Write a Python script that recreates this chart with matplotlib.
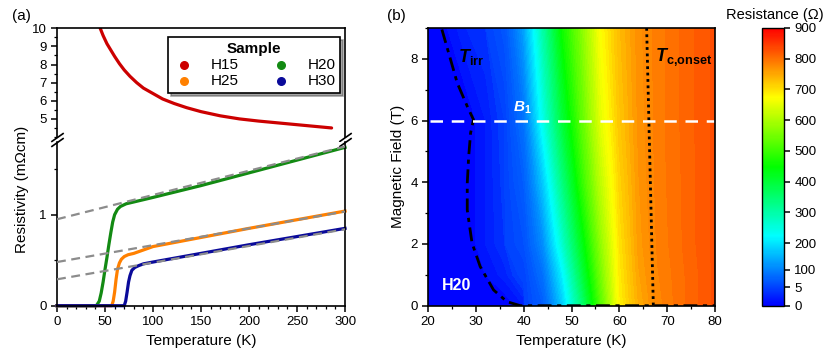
import numpy as np
import matplotlib
matplotlib.use('Agg')
import matplotlib.pyplot as plt
from matplotlib.colors import LinearSegmentedColormap, FuncNorm
from matplotlib.cm import ScalarMappable
from matplotlib.ticker import MultipleLocator

plt.rcParams['font.family'] = ['Liberation Sans', 'DejaVu Sans']
plt.rcParams['mathtext.fontset'] = 'custom'
plt.rcParams['mathtext.rm'] = 'Liberation Sans'
plt.rcParams['mathtext.it'] = 'Liberation Sans:italic'
plt.rcParams['mathtext.bf'] = 'Liberation Sans:bold'
plt.rcParams['mathtext.bfit'] = 'Liberation Sans:italic:bold'
plt.rcParams['axes.linewidth'] = 1.2
plt.rcParams['xtick.major.width'] = 1.1
plt.rcParams['ytick.major.width'] = 1.1
plt.rcParams['xtick.minor.width'] = 0.9
plt.rcParams['ytick.minor.width'] = 0.9

# ---- (a) resistivity vs temperature ----
t_h15 = [43, 45, 48, 52, 56, 60, 65, 70, 76, 83, 90, 100, 110, 122, 135, 150,
         170, 190, 210, 230, 250, 270, 286]
rho_h15 = [10.4, 10.0, 9.6, 9.15, 8.8, 8.45, 8.05, 7.7, 7.35, 7.0, 6.7, 6.4, 6.1, 5.85, 5.62, 5.40,
           5.17, 5.0, 4.88, 4.78, 4.68, 4.58, 4.50]

t_h20 = [0, 41, 44, 46, 48, 50, 52, 54, 56, 58, 60, 63, 66, 72, 80, 100, 150, 200, 250, 300]
rho_h20 = [0, 0, 0.05, 0.14, 0.26, 0.40, 0.53, 0.67, 0.80, 0.92, 1.00, 1.06, 1.09, 1.12, 1.14,
           1.19, 1.32, 1.46, 1.60, 1.74]

t_h25 = [0, 57, 58.5, 60, 61.5, 63, 65, 67, 70, 74, 80, 100, 150, 200, 250, 300]
rho_h25 = [0, 0, 0.05, 0.15, 0.29, 0.40, 0.47, 0.51, 0.54, 0.56, 0.575, 0.65, 0.75, 0.85, 0.945, 1.04]

t_h30 = [0, 70, 71.5, 73, 74.5, 76, 78, 81, 85, 90, 100, 150, 200, 250, 300]
rho_h30 = [0, 0, 0.05, 0.15, 0.26, 0.33, 0.39, 0.42, 0.44, 0.46, 0.48, 0.575, 0.67, 0.76, 0.85]

# linear fits of the normal state
fit_t = [0, 300]
fit_h20 = [0.95, 1.75]
fit_h25 = [0.48, 1.035]
fit_h30 = [0.29, 0.84]

# ---- (b) resistance map of H20 ----
map_T = [20, 24, 28, 32, 36, 40, 44, 48, 52, 56, 60, 64, 68, 72, 76, 80]
map_B = [0, 1, 2, 4, 6, 9]
map_R = [
    [0, 0, 0, 0, 0, 2, 45, 170, 335, 515, 681, 745, 780, 798, 813, 828],
    [0, 0, 0, 1, 2.5, 6, 74, 209, 380, 546, 688, 753, 784, 799, 813, 828],
    [0, 0, 0, 2, 4, 24, 110, 260, 418, 570, 695, 759, 787, 801, 815, 828],
    [0, 0, 0, 2, 4.5, 46, 171, 331, 483, 613, 709, 764, 789, 802, 815, 828],
    [0, 0, 0, 2, 5, 77, 239, 393, 525, 645, 722, 768, 790, 803, 816, 828],
    [0, 1, 3, 4, 30, 133, 299, 455, 562, 670, 733, 771, 790, 803, 816, 828],
]

tirr_T = [22.9, 24.7, 26.1, 28.2, 29.5, 28.9, 28.5, 28.2, 28.2, 29.2, 30.9, 33.7, 36.5, 39.3, 80]
tirr_B = [8.95, 7.98, 7.22, 6.46, 6.03, 5.6, 4.84, 3.97, 3.1, 2.03, 1.27, 0.51, 0.13, 0, 0]
tc_T = [65.7, 67.1]
tc_B = [9, 0]
b1_T = [20.5, 80]
b1_B = [6, 6]

cbar_vals = [0, 5, 100, 200, 300, 400, 500, 600, 700, 800, 900]
cbar_pos = [0, 0.066, 0.129, 0.225, 0.336, 0.446, 0.557, 0.668, 0.779, 0.889, 1.0]

fig = plt.figure(figsize=(8.3, 3.57), dpi=100)

ax_top = fig.add_axes([0.0687, 0.6162, 0.347, 0.3045])
ax_bot = fig.add_axes([0.0687, 0.1437, 0.347, 0.4588])

ax_top.plot(t_h15, rho_h15, color='#cc0000', lw=2.3, solid_capstyle='round')
ax_bot.plot(t_h20, rho_h20, color='#138a13', lw=2.3, clip_on=False)
ax_bot.plot(t_h25, rho_h25, color='#ff8000', lw=2.3, clip_on=False)
ax_bot.plot(t_h30, rho_h30, color='#0a0a9a', lw=2.3, clip_on=False)
for f in [fit_h20, fit_h25, fit_h30]:
    ax_bot.plot(fit_t, f, color='#8c8c8c', lw=1.6, ls=(0, (4, 2.5)), zorder=5)

for ax in [ax_top, ax_bot]:
    ax.set_xlim(0, 300)
    ax.tick_params(which='both', direction='out', right=False, top=False, labelsize=9.5)
    ax.tick_params(which='major', length=4)
    ax.tick_params(which='minor', length=2.2)
ax_top.set_ylim(4.0, 10)
ax_top.yaxis.set_minor_locator(MultipleLocator(0.5))
ax_top.set_yticks([5, 6, 7, 8, 9, 10])
ax_top.spines['bottom'].set_visible(False)
ax_top.tick_params(axis='x', which='both', bottom=False, labelbottom=False)

ax_bot.set_ylim(0, 1.8)
ax_bot.set_yticks([0, 1])
ax_bot.yaxis.set_minor_locator(MultipleLocator(0.5))
ax_bot.spines['top'].set_visible(False)
ax_bot.xaxis.set_major_locator(MultipleLocator(50))
ax_bot.xaxis.set_minor_locator(MultipleLocator(10))
ax_bot.set_xlabel('Temperature (K)', fontsize=11)

brk = dict(marker=[(-1, -0.7), (1, 0.7)], markersize=9, linestyle='none',
           color='k', mec='k', mew=1.2, clip_on=False)
ax_top.plot([0, 1], [0, 0], transform=ax_top.transAxes, **brk)
ax_bot.plot([0, 1], [1, 1], transform=ax_bot.transAxes, **brk)

fig.text(0.027, 0.47, 'Resistivity (m\u03a9cm)', rotation=90, ha='center', va='center', fontsize=11)
fig.text(0.015, 0.955, '(a)', fontsize=11, va='center')

hs = [ax_top.scatter([], [], color=c, s=30) for c in ['#cc0000', '#ff8000', '#138a13', '#0a0a9a']]
leg = ax_top.legend(hs, ['H15', 'H25', 'H20', 'H30'], ncol=2, title='Sample',
                    loc='upper right', bbox_to_anchor=(0.983, 0.92), borderaxespad=0,
                    fontsize=11, title_fontproperties={'weight': 'bold', 'size': 11},
                    fancybox=False, shadow=True, edgecolor='k', framealpha=1,
                    handletextpad=1.0, columnspacing=2.0, labelspacing=0.15,
                    borderpad=0.3, handlelength=1.5)
leg.get_frame().set_linewidth(1.2)

# ---- (b) ----
def fwd(v):
    return np.interp(v, cbar_vals, cbar_pos)

def inv(p):
    return np.interp(p, cbar_pos, cbar_vals)

norm = FuncNorm((fwd, inv), vmin=0, vmax=900)
cmap = LinearSegmentedColormap.from_list('rb', ['#0000ff', '#00ffff', '#00ff00', '#ffff00', '#ff0000'])

axm = fig.add_axes([0.5157, 0.1437, 0.3458, 0.778])
levels = np.concatenate([np.arange(0, 5, 1), np.arange(5, 900, 10), [900]])
axm.contourf(map_T, map_B, map_R, levels=levels, cmap=cmap, norm=norm)
axm.plot(tirr_T, tirr_B, color='k', lw=2, ls=(0, (5, 2, 1.5, 2)))
axm.plot(tc_T, tc_B, color='k', lw=2, ls=(0, (1, 1.3)))
axm.plot(b1_T, b1_B, color='white', lw=1.8, ls=(0, (5, 3.5)))
axm.set_xlim(20, 80)
axm.set_ylim(0, 9)
axm.xaxis.set_major_locator(MultipleLocator(10))
axm.xaxis.set_minor_locator(MultipleLocator(5))
axm.yaxis.set_major_locator(MultipleLocator(2))
axm.yaxis.set_minor_locator(MultipleLocator(1))
axm.tick_params(which='both', direction='out', labelsize=9.5)
axm.tick_params(which='major', length=4)
axm.tick_params(which='minor', length=2.2)
axm.set_xlabel('Temperature (K)', fontsize=11)
axm.set_ylabel('Magnetic Field (T)', fontsize=11, labelpad=4)

axm.text(26.2, 8.05, r'$\mathbfit{T}_{\mathbf{irr}}$', fontsize=13, va='center')
axm.text(67.4, 8.05, r'$\mathbfit{T}_{\mathbf{c{,}onset}}$', fontsize=13, va='center')
axm.text(37.7, 6.42, r'$\mathbfit{B}_{\mathbf{1}}$', fontsize=11, va='center', color='white')
axm.text(22.9, 0.64, 'H20', fontsize=11.5, fontweight='bold', va='center', color='white')
fig.text(0.466, 0.955, '(b)', fontsize=11, va='center')

cax = fig.add_axes([0.9177, 0.1437, 0.0269, 0.778])
sm = ScalarMappable(norm=norm, cmap=cmap)
cb = fig.colorbar(sm, cax=cax, ticks=cbar_vals)
cb.minorticks_off()
cb.ax.tick_params(labelsize=9.5, length=4, width=1.1)
cb.outline.set_linewidth(1)
fig.text(0.933, 0.958, 'Resistance (\u03a9)', ha='center', va='center', fontsize=10.5)

fig.savefig('out.png', dpi=100)
